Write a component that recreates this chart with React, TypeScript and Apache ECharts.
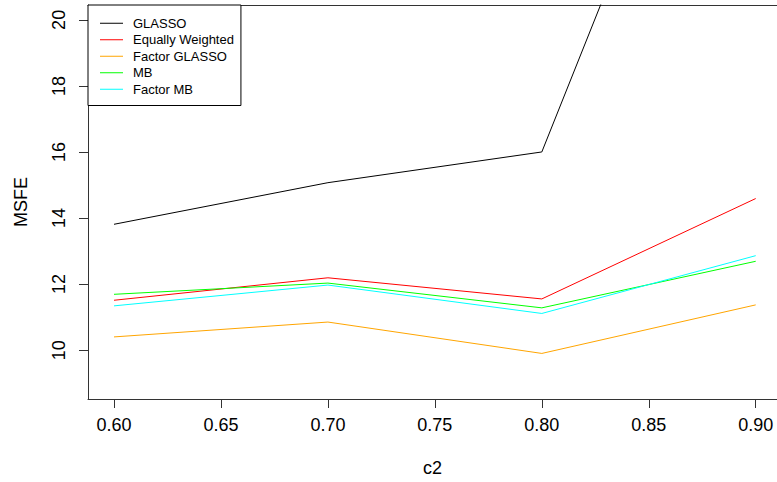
import React, { useEffect, useRef } from "react";
import * as echarts from "echarts";

const xValues = [0.6, 0.7, 0.8, 0.9];
const glasso = [13.81, 15.07, 16.0, 32.2];
const equallyWeighted = [11.51, 12.19, 11.55, 14.59];
const factorGlasso = [10.4, 10.85, 9.9, 11.37];
const mb = [11.69, 12.03, 11.28, 12.69];
const factorMb = [11.34, 11.97, 11.11, 12.86];

const seriesNames = ["GLASSO", "Equally Weighted", "Factor GLASSO", "MB", "Factor MB"];
const seriesValues = [glasso, equallyWeighted, factorGlasso, mb, factorMb];
const seriesColors = ["#000000", "#FF0000", "#FFA500", "#00FF00", "#00FFFF"];

const xTicks = [0.6, 0.65, 0.7, 0.75, 0.8, 0.85, 0.9];
const yTicks = [10, 12, 14, 16, 18, 20];

const FONT = "'Liberation Sans', Arial, sans-serif";
const AXIS_COLOR = "#333";

export default function App() {
  const ref = useRef<HTMLDivElement>(null);
  useEffect(() => {
    if (!ref.current) return;
    const chart = echarts.init(ref.current, null, { renderer: "svg" });
    chart.setOption({
      animation: false,
      backgroundColor: "#ffffff",
      textStyle: { fontFamily: FONT },
      grid: {
        left: 88,
        top: 5,
        right: 0,
        bottom: 80,
        show: false,
        containLabel: false,
      },
      legend: {
        orient: "vertical",
        left: 88,
        top: 5,
        padding: [10, 7, 8, 12],
        backgroundColor: "#ffffff",
        borderColor: "#000",
        borderWidth: 1,
        borderRadius: 0,
        itemGap: 0,
        itemWidth: 23,
        itemHeight: 1,
        icon: "rect",
        data: seriesNames,
        textStyle: {
          fontFamily: FONT,
          fontSize: 13,
          lineHeight: 16.5,
          color: "#000",
          padding: [0, 0, 0, 5],
        },
      },
      xAxis: [
        {
          type: "value",
          min: 0.58784,
          max: 0.90995,
          name: "c2",
          nameLocation: "middle",
          nameGap: 60,
          nameTextStyle: { fontFamily: FONT, fontSize: 18, color: "#000" },
          splitLine: { show: false },
          axisLine: { show: true, onZero: false, lineStyle: { color: AXIS_COLOR, width: 1 } },
          axisTick: {
            show: true,
            length: 9,
            customValues: xTicks,
            lineStyle: { color: AXIS_COLOR, width: 1 },
          },
          axisLabel: {
            customValues: xTicks,
            margin: 17,
            fontFamily: FONT,
            fontSize: 18,
            color: "#000",
            formatter: (v: number) => v.toFixed(2),
          },
        },
        {
          type: "value",
          position: "top",
          min: 0.58784,
          max: 0.90995,
          splitLine: { show: false },
          axisLine: { show: true, onZero: false, lineStyle: { color: AXIS_COLOR, width: 1 } },
          axisTick: { show: false },
          axisLabel: { show: false },
        },
      ],
      yAxis: {
        type: "value",
        min: 8.52,
        max: 20.45,
        name: "MSFE",
        nameLocation: "middle",
        nameGap: 58,
        nameTextStyle: { fontFamily: FONT, fontSize: 18, color: "#000" },
        splitLine: { show: false },
        axisLine: { show: true, onZero: false, lineStyle: { color: AXIS_COLOR, width: 1 } },
        axisTick: {
          show: true,
          length: 9,
          customValues: yTicks,
          lineStyle: { color: AXIS_COLOR, width: 1 },
        },
        axisLabel: {
          customValues: yTicks,
          rotate: 90,
          margin: 20,
          fontFamily: FONT,
          fontSize: 18,
          color: "#000",
        },
      },
      series: seriesNames.map((name, i) => ({
        name,
        type: "line",
        symbol: "none",
        clip: true,
        xAxisIndex: 0,
        data: xValues.map((x, j) => [x, seriesValues[i][j]]),
        lineStyle: { color: seriesColors[i], width: 1 },
        itemStyle: { color: seriesColors[i] },
      })),
    });
    return () => chart.dispose();
  }, []);
  return (
    <div
      ref={ref}
      style={{ position: "fixed", left: 0, top: 0, width: 777, height: 482 }}
    />
  );
}
